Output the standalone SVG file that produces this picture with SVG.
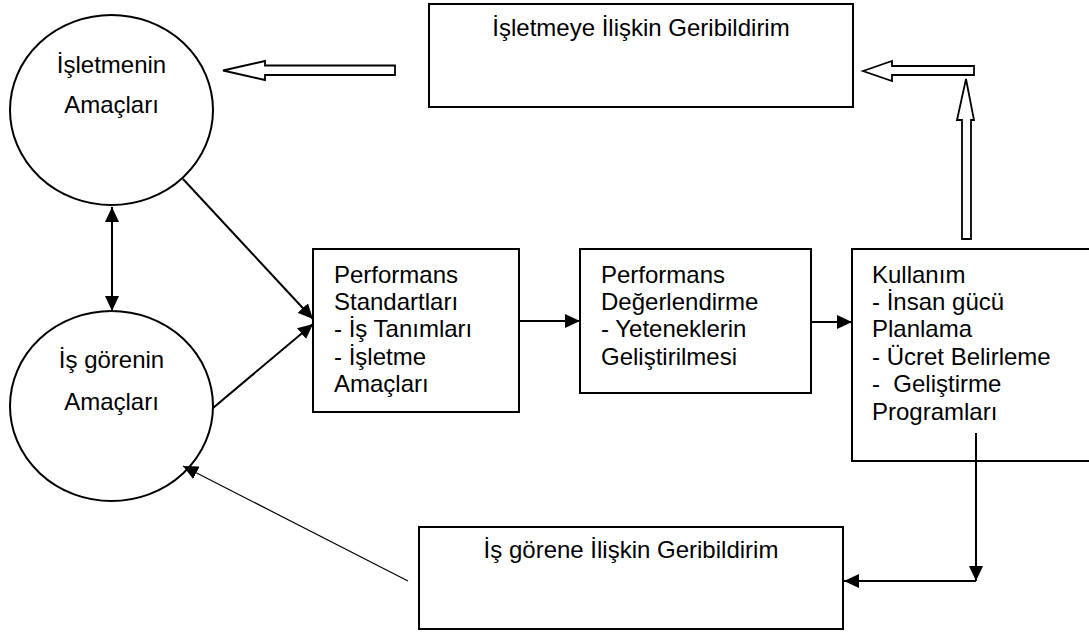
<svg xmlns="http://www.w3.org/2000/svg" width="1089" height="633" viewBox="0 0 1089 633">
<style>
  .shape { fill: #ffffff; stroke: #000000; stroke-width: 2; }
  .block { fill: #ffffff; stroke: #000000; stroke-width: 1.8; stroke-linejoin: miter; }
  .lbl { font-family: "Liberation Sans", Arial, sans-serif; font-size: 24px; fill: #000000; }
  .mid { text-anchor: middle; }
  .conn { fill: none; stroke: #000000; stroke-width: 2; }
  .thin { fill: none; stroke: #000000; stroke-width: 1.2; }
</style>
<defs>
  <marker id="ah" markerUnits="userSpaceOnUse" markerWidth="16" markerHeight="14" refX="15" refY="7" orient="auto-start-reverse">
    <path d="M0,0 L15,7 L0,14 z" fill="#000000"/>
  </marker>
</defs>

<g id="node-isletme-amaclari">
  <ellipse class="shape" cx="111.5" cy="110" rx="101.5" ry="95"/>
  <text class="lbl mid" x="111.5" y="73">İşletmenin</text>
  <text class="lbl mid" x="111.5" y="113">Amaçları</text>
</g>

<g id="node-isgoren-amaclari">
  <ellipse class="shape" cx="111.5" cy="406" rx="101.5" ry="95"/>
  <text class="lbl mid" x="111.5" y="368">İş görenin</text>
  <text class="lbl mid" x="111.5" y="410">Amaçları</text>
</g>

<g id="node-isletme-geribildirim">
  <rect class="shape" x="429" y="4" width="424" height="103"/>
  <text class="lbl mid" x="641" y="36">İşletmeye İlişkin Geribildirim</text>
</g>

<g id="node-performans-standartlari">
  <rect class="shape" x="313" y="249" width="206" height="163"/>
  <text class="lbl" x="334" y="283">Performans</text>
  <text class="lbl" x="334" y="310">Standartları</text>
  <text class="lbl" x="334" y="337">- İş Tanımları</text>
  <text class="lbl" x="334" y="365">- İşletme</text>
  <text class="lbl" x="334" y="392">Amaçları</text>
</g>

<g id="node-performans-degerlendirme">
  <rect class="shape" x="580" y="249" width="231" height="144"/>
  <text class="lbl" x="601" y="283">Performans</text>
  <text class="lbl" x="601" y="310">Değerlendirme</text>
  <text class="lbl" x="601" y="337">- Yeteneklerin</text>
  <text class="lbl" x="601" y="365">Geliştirilmesi</text>
</g>

<g id="node-kullanim">
  <rect class="shape" x="852" y="249" width="250" height="212"/>
  <text class="lbl" x="872" y="283">Kullanım</text>
  <text class="lbl" x="872" y="310">- İnsan gücü</text>
  <text class="lbl" x="872" y="337">Planlama</text>
  <text class="lbl" x="872" y="365">- Ücret Belirleme</text>
  <text class="lbl" x="872" y="392" xml:space="preserve">-  Geliştirme</text>
  <text class="lbl" x="872" y="420">Programları</text>
</g>

<g id="node-isgoren-geribildirim">
  <rect class="shape" x="419" y="527" width="424" height="102"/>
  <text class="lbl mid" x="631" y="558">İş görene İlişkin Geribildirim</text>
</g>

<g id="connectors">
  <!-- double arrow between circles -->
  <line class="conn" x1="112" y1="207" x2="112" y2="311" marker-start="url(#ah)" marker-end="url(#ah)"/>
  <!-- circles to standards box -->
  <line class="conn" x1="183" y1="179" x2="313" y2="319" marker-end="url(#ah)"/>
  <line class="conn" x1="213" y1="408" x2="313" y2="324" marker-end="url(#ah)"/>
  <!-- box to box -->
  <line class="conn" x1="519" y1="321" x2="580" y2="321" marker-end="url(#ah)"/>
  <line class="conn" x1="811" y1="322" x2="852" y2="322" marker-end="url(#ah)"/>
  <!-- Kullanim down to employee feedback -->
  <line class="conn" x1="976" y1="433" x2="976" y2="581" marker-end="url(#ah)"/>
  <line class="conn" x1="976" y1="581" x2="844" y2="581" marker-end="url(#ah)"/>
  <!-- employee feedback to employee goals -->
  <line class="thin" x1="408" y1="581" x2="183" y2="466" marker-end="url(#ah)"/>
  <!-- hollow block arrows -->
  <polygon class="block" points="223,70.5 265,61 265,65.5 395,65.5 395,75 265,75 265,80"/>
  <polygon class="block" points="863,71 892,61 892,66 974,66 974,75 892,75 892,81"/>
  <polygon class="block" points="966,79 974,120 971,120 971,239 962,239 962,120 957,120"/>
</g>
</svg>
